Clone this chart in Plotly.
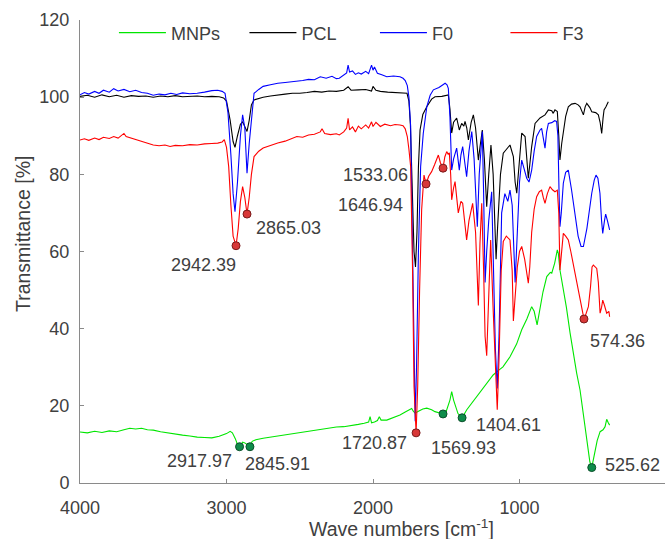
import plotly.graph_objects as go

# ---------------- data ----------------
mnps_x = [4000,3950,3900,3850,3800,3750,3700,3660,3620,3580,3540,3500,3450,3400,3350,3300,3250,3200,3150,3100,
          3050,3000,2975,2960,2940,2925,2911,2890,2875,2855,2840,2825,2800,2750,2700,2650,2600,2550,2500,2450,
          2400,2350,2300,2250,2200,2150,2100,2060,2030,2020,2010,1990,1970,1957,1945,1906,1860,1816,1780,1750,
          1736,1725,1713,1690,1660,1633,1600,1577,1540,1522,1500,1475,1463,1450,1420,1392,1360,1320,1290,1250,
          1215,1180,1150,1113,1065,1020,985,950,917,900,880,860,840,814,790,780,760,742,735,724,
          700,680,655,630,610,587,560,540,532,520,507,495,485,470,450,430,416,405,395,385]
mnps_y = [13.2,13.0,13.4,13.1,13.5,13.3,13.8,14.2,14.0,14.2,13.8,13.7,13.3,13.0,12.6,12.4,12.2,11.9,11.8,11.7,
          12.1,12.8,13.4,13.0,11.5,10.0,9.4,10.6,10.4,9.8,9.4,10.8,11.2,11.6,11.9,12.2,12.5,12.8,13.0,13.3,
          13.6,13.9,14.3,14.5,14.6,15.0,15.2,15.5,15.8,17.2,15.6,15.8,16.2,17.2,16.3,16.3,17.0,17.6,18.4,19.0,
          19.3,18.6,18.1,18.6,19.2,19.4,19.0,18.5,18.0,17.9,18.6,21.5,23.7,21.5,18.0,16.9,19.0,21.0,22.4,24.2,
          26.0,28.0,29.0,30.1,32.7,36.0,39.7,42.5,45.7,44.5,41.0,45.0,49.5,53.5,54.6,54.4,57.0,60.4,59.5,55.2,
          50.0,45.5,38.9,33.0,28.5,24.1,16.5,10.0,8.5,5.5,4.0,6.0,8.5,11.0,13.3,13.8,14.6,16.5,15.7,15.0]

pcl_x = [4000,3950,3900,3850,3800,3750,3700,3650,3600,3550,3500,3450,3400,3350,3300,3250,3200,3150,3100,3050,
         3020,3000,2975,2955,2942,2925,2905,2890,2875,2860,2845,2830,2812,2750,2700,2650,2600,2550,2500,2450,
         2400,2350,2300,2250,2200,2170,2150,2100,2050,2010,2000,1980,1950,1900,1850,1800,1768,1755,1745,1735,
         1720,1710,1700,1690,1679,1660,1633,1600,1577,1530,1486,1475,1463,1450,1429,1411,1395,1380,1372,1360,
         1349,1330,1315,1300,1281,1270,1254,1240,1224,1210,1195,1180,1167,1160,1150,1130,1111,1090,1065,1042,
         1030,1019,1000,985,962,950,940,930,917,894,860,826,803,780,770,758,742,732,724,712,
         701,685,667,645,621,600,587,575,564,552,541,520,507,480,462,450,439,430,423,410,394]
pcl_y = [100.2,100.5,100.0,100.6,100.1,100.5,100.0,100.4,100.2,100.3,100.0,100.3,100.1,100.4,100.1,100.2,100.3,100.1,100.2,100.1,
         99.8,99.0,94.0,88.5,87.0,90.0,93.0,93.6,92.5,91.1,94.0,98.0,99.3,100.0,100.3,100.6,100.8,101.0,101.0,101.2,
         101.5,101.3,101.6,101.5,101.8,102.7,101.8,101.9,102.0,101.6,102.8,101.8,101.5,101.3,101.2,101.0,101.0,99.0,93.0,80.0,
         60.0,56.0,65.0,82.0,91.5,95.5,97.5,99.5,100.1,100.2,100.6,97.0,90.7,93.5,94.6,91.5,93.2,92.5,93.7,92.0,
         88.9,93.5,95.4,92.0,83.7,87.0,91.5,84.0,71.6,80.0,87.6,80.0,62.0,58.0,66.0,80.0,85.5,86.5,87.6,84.6,
         78.0,75.1,84.0,90.7,89.8,85.0,79.0,82.5,87.2,93.2,94.6,95.4,96.7,96.5,95.8,96.7,96.3,90.0,83.7,88.0,
         91.1,95.0,97.5,98.2,98.4,98.0,97.5,96.5,95.4,97.5,98.4,97.3,96.2,96.0,95.4,93.5,90.6,94.5,96.7,97.5,98.8]

f0_x = [4000,3970,3940,3900,3870,3840,3800,3770,3740,3700,3660,3620,3580,3540,3500,3460,3420,3380,3340,3300,
        3250,3200,3150,3100,3060,3030,3010,2990,2970,2955,2942,2925,2905,2890,2875,2860,2845,2825,2812,2780,
        2750,2700,2650,2600,2550,2520,2480,2440,2400,2360,2320,2280,2250,2230,2200,2180,2170,2160,2140,2120,
        2100,2080,2050,2030,2010,2000,1990,1970,1940,1906,1860,1816,1795,1780,1766,1755,1743,1730,1720,1712,
        1703,1690,1675,1657,1633,1610,1588,1550,1520,1508,1495,1486,1475,1463,1450,1429,1411,1400,1388,1375,
        1361,1345,1326,1310,1288,1275,1254,1245,1235,1224,1210,1190,1175,1165,1152,1140,1122,1100,1080,1065,
        1050,1038,1030,1015,1000,985,965,951,935,917,900,883,860,849,836,826,815,803,780,760,
        747,738,730,724,715,701,685,667,645,621,600,580,564,540,520,507,490,478,465,451,
        440,432,420,412,400,385]
f0_y = [100.6,101.2,100.8,101.5,101.0,101.8,101.3,102.2,101.6,102.0,101.4,101.8,101.2,101.0,100.5,100.8,100.6,101.0,100.7,101.1,
        100.9,101.0,101.3,101.7,101.8,101.5,101.0,96.0,85.0,75.0,70.3,78.0,90.0,95.4,92.0,80.3,88.0,97.0,101.0,102.0,
        102.8,103.2,103.6,103.8,104.0,104.0,104.3,104.6,104.5,105.3,104.9,105.4,104.8,104.9,105.8,106.3,108.3,106.5,106.8,105.9,
        106.3,106.0,106.7,106.1,108.3,107.0,107.8,106.2,105.8,105.3,105.5,105.3,104.9,104.3,103.0,100.0,92.4,60.0,25.0,16.0,
        30.0,60.0,82.0,90.6,97.5,100.5,101.9,102.5,103.3,103.6,103.2,102.3,95.0,81.1,84.0,86.8,81.1,85.0,87.2,84.0,
        79.4,86.0,91.1,84.0,66.4,80.0,91.1,75.0,52.0,60.0,68.0,75.5,55.0,35.0,24.5,38.0,70.0,75.0,73.0,75.9,
        72.0,60.0,52.0,65.0,78.0,83.7,81.0,79.0,78.0,81.1,86.0,89.8,91.5,91.9,89.0,86.8,91.0,93.2,93.4,93.9,
        93.7,90.0,75.0,66.4,70.0,77.7,80.5,81.1,76.0,69.9,64.0,61.3,61.3,66.0,72.0,75.1,78.5,79.8,79.0,75.1,
        68.0,64.7,68.0,69.7,68.0,65.6]

f3_x = [4000,3970,3940,3900,3870,3840,3800,3770,3740,3720,3700,3685,3660,3620,3580,3535,3500,3460,3420,3385,
        3350,3300,3250,3200,3150,3100,3060,3030,3015,3000,2985,2970,2955,2935,2920,2905,2890,2875,2860,2845,
        2830,2812,2780,2750,2700,2650,2600,2550,2520,2480,2440,2400,2360,2348,2330,2290,2250,2230,2200,2180,
        2170,2160,2140,2120,2100,2080,2050,2030,2010,2000,1980,1950,1920,1880,1850,1816,1795,1780,1766,1755,
        1743,1730,1720,1706,1695,1682,1668,1652,1638,1620,1600,1580,1565,1554,1540,1522,1510,1497,1487,1479,
        1470,1463,1450,1440,1418,1400,1388,1375,1361,1345,1320,1300,1281,1270,1258,1245,1235,1224,1210,1197,
        1180,1165,1152,1140,1125,1111,1090,1065,1050,1042,1030,1015,1000,985,965,950,940,930,917,900,
        883,865,849,838,826,810,792,775,758,742,732,724,712,701,685,667,650,630,610,590,
        575,560,545,530,515,505,496,485,473,462,450,440,432,420,405,390,385]
f3_y = [88.9,89.2,88.8,89.4,89.0,89.6,89.3,89.8,89.4,90.0,90.6,89.8,89.5,89.0,88.4,88.0,87.6,87.4,87.6,87.2,
        87.5,87.4,87.7,87.6,87.9,88.0,88.1,88.4,89.0,87.0,82.0,72.0,64.0,61.5,66.0,73.0,76.8,74.0,69.7,74.0,
        80.0,84.6,86.0,86.8,87.5,88.1,88.6,89.3,89.8,89.6,90.2,90.4,91.0,91.8,90.6,90.3,90.5,90.2,91.0,92.0,
        94.5,91.5,92.3,91.0,92.5,91.8,92.8,92.0,93.6,92.4,93.5,92.4,93.0,92.6,92.9,92.8,92.6,91.8,89.8,86.5,
        82.0,55.0,25.0,13.0,25.0,50.0,70.8,79.8,77.5,79.5,80.7,82.5,84.0,85.0,83.0,81.6,84.5,85.9,85.2,85.6,
        80.0,73.4,76.5,78.1,70.0,73.0,72.5,68.0,63.0,68.0,72.5,65.0,46.0,62.0,72.5,55.0,38.0,33.0,50.0,63.0,
        45.0,28.0,19.0,32.0,55.0,62.6,64.0,63.0,55.0,42.0,48.0,56.0,60.0,61.3,58.0,54.0,51.8,56.0,65.0,71.0,
        74.2,75.5,75.9,74.0,72.5,75.0,76.8,76.0,75.5,75.9,70.0,55.2,60.0,64.7,64.0,63.0,60.0,56.0,51.8,48.5,
        45.0,42.5,44.0,45.7,51.0,56.0,56.5,56.0,55.6,52.0,44.0,45.5,47.4,46.0,44.0,44.5,43.1]

# picked peaks: marker positions and their labels
f3_peak_x = [2935, 2860, 1638, 1522, 1706, 560]
f3_peak_y = [61.5, 69.7, 77.5, 81.6, 13.0, 42.5]
mnps_peak_x = [2911, 2840, 1522, 1392, 507]
mnps_peak_y = [9.4, 9.4, 17.9, 16.9, 4.0]

label_texts = ["2942.39", "2865.03", "1646.94", "1533.06", "1720.87", "574.36",
               "2917.97", "2845.91", "1569.93", "1404.61", "525.62"]
label_x = [3160, 2580, 2014, 1986, 1993, 334, 3181, 2655, 1379, 1078, 232]
label_y = [56.5, 66.1, 72.1, 79.8, 10.4, 36.8, 5.7, 4.9, 9.1, 15.0, 4.7]

series_names = ["MNPs", "PCL", "F0", "F3"]
series_colors = ["#00e600", "#000000", "#0000ff", "#ff0000"]

x_ticks = [4000, 3000, 2000, 1000]
y_ticks = [0, 20, 40, 60, 80, 100, 120]

# ---------------- figure ----------------
FONT = "Liberation Sans, Arial, Helvetica, sans-serif"
TXT = "#404040"
AX = "#8a8a8a"

fig = go.Figure()
for name, xs, ys, col in zip(series_names, [mnps_x, pcl_x, f0_x, f3_x],
                             [mnps_y, pcl_y, f0_y, f3_y], series_colors):
    fig.add_trace(go.Scatter(x=xs, y=ys, mode="lines", name=name,
                             line=dict(color=col, width=1.1)))

fig.add_trace(go.Scatter(x=f3_peak_x, y=f3_peak_y, mode="markers", showlegend=False,
                         marker=dict(size=8, color="#d83838", line=dict(color="#7a1a1a", width=1))))
fig.add_trace(go.Scatter(x=mnps_peak_x, y=mnps_peak_y, mode="markers", showlegend=False,
                         marker=dict(size=8, color="#0e8c4a", line=dict(color="#0a4f2a", width=1))))

for t, lx, ly in zip(label_texts, label_x, label_y):
    fig.add_annotation(x=lx, y=ly, text=t, showarrow=False, xanchor="center", yanchor="middle",
                       font=dict(family=FONT, size=18, color=TXT))

fig.add_annotation(xref="paper", yref="paper", x=0.5504, y=-0.0972,
                   text="Wave numbers [cm<sup>-1</sup>]", showarrow=False,
                   xanchor="center", yanchor="middle", font=dict(family=FONT, size=19.5, color=TXT))
fig.add_annotation(xref="paper", yref="paper", x=-0.0974, y=0.5378,
                   text="Transmittance [%]", showarrow=False, textangle=-90,
                   xanchor="center", yanchor="middle", font=dict(family=FONT, size=19.5, color=TXT))

fig.update_layout(
    width=665, height=539, autosize=False,
    margin=dict(l=80, r=0, t=20, b=56, autoexpand=False),
    plot_bgcolor="white", paper_bgcolor="white",
    font=dict(family=FONT, size=18, color=TXT),
    legend=dict(orientation="h", x=0.058, y=0.972, xanchor="left", yanchor="middle",
                entrywidth=68.5, entrywidthmode="pixels", itemwidth=47,
                bgcolor="rgba(0,0,0,0)", font=dict(family=FONT, size=18, color=TXT)),
    xaxis=dict(range=[4000, 7], tickvals=x_ticks, ticks="inside", ticklen=4, tickcolor=AX,
               showline=True, linecolor=AX, linewidth=1, showgrid=False, zeroline=False,
               tickfont=dict(family=FONT, size=18, color=TXT), ticklabelstandoff=8),
    yaxis=dict(range=[0, 120], tickvals=y_ticks, ticks="inside", ticklen=4, tickcolor=AX,
               showline=True, linecolor=AX, linewidth=1, showgrid=False, zeroline=False,
               tickfont=dict(family=FONT, size=18, color=TXT), ticklabelstandoff=6),
)

fig.write_html("out.html", config={"displayModeBar": False},
               post_script="document.body.style.margin='0';")
